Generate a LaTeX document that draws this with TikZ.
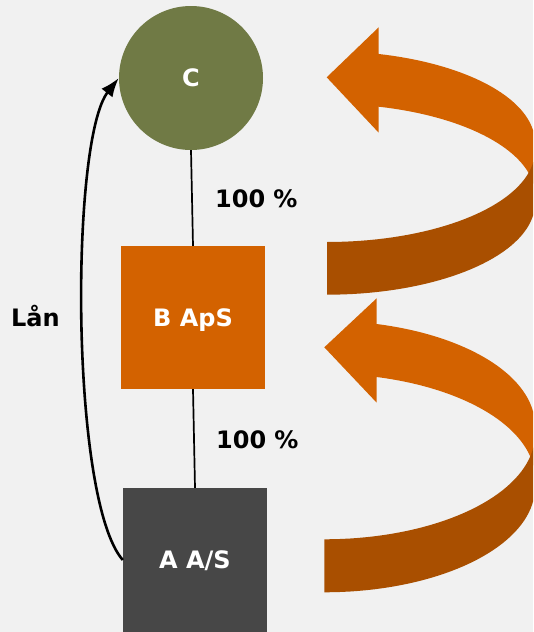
\documentclass[tikz,border=0pt]{standalone}
\usepackage{fontspec}
\setmainfont{DejaVu Sans}
\usetikzlibrary{arrows.meta}
\definecolor{bgc}{HTML}{F1F1F1}
\definecolor{cOlive}{HTML}{707A45}
\definecolor{cOrange}{HTML}{D36200}
\definecolor{cDark}{HTML}{A94F00}
\definecolor{cGray}{HTML}{474747}
\begin{document}
\begin{tikzpicture}[x=1pt,y=-1pt,
  lbl/.style={font=\fontsize{24}{28}\selectfont\bfseries, inner sep=0pt},
  entity/.style={lbl, text=white, text height=17.5pt, text depth=0pt},
  link/.style={line width=1.7pt, black},
  loan/.style={line width=2.6pt, black, -{Latex[length=19pt,width=14pt]}},
]
\useasboundingbox (0,0) rectangle (533,632);
\fill[bgc] (0,0) rectangle (533,632);
\begin{scope}
\clip (0,0) rectangle (533,632);
% upper curved arrow
\fill[cOrange] (378.7,54) -- plot[domain=75.6:0,samples=40] ({327+208*cos(\x)},{142.8-91.7*sin(\x)})
  -- (535,195.5) -- plot[domain=0:75.6,samples=40] ({327+208*cos(\x)},{195.5-91.7*sin(\x)})
  -- (378.7,132.7) -- (326.7,77.3) -- (378.7,27.3) -- cycle;
\fill[cDark] (327,294.7) -- plot[domain=90:0,samples=40] ({327+208*cos(\x)},{203+91.7*sin(\x)})
  -- (535,150.3) -- plot[domain=0:90,samples=40] ({327+208*cos(\x)},{150.3+91.7*sin(\x)}) -- cycle;
% lower curved arrow
\fill[cOrange] (376.7,324) -- plot[domain=75.6:0,samples=40] ({324.3+210.7*cos(\x)},{425.7-105*sin(\x)})
  -- (535,478.7) -- plot[domain=0:75.6,samples=40] ({324.3+210.7*cos(\x)},{478.7-105*sin(\x)})
  -- (376.7,402.7) -- (324.3,347.3) -- (376.7,298.3) -- cycle;
\fill[cDark] (324.3,592.3) -- plot[domain=90:0,samples=40] ({324.3+210.7*cos(\x)},{487.3+105*sin(\x)})
  -- (535,434.3) -- plot[domain=0:90,samples=40] ({324.3+210.7*cos(\x)},{434.3+105*sin(\x)}) -- cycle;
\end{scope}
% entities
\node[entity, circle, fill=cOlive, minimum size=144pt] (C) at (191,78) {C};
\node[entity, rectangle, fill=cOrange, minimum width=144pt, minimum height=143pt] (B) at (193,317.5) {B ApS};
\node[entity, rectangle, fill=cGray, minimum width=144pt, minimum height=144pt] (A) at (195,560) {A A/S};
% ownership links
\draw[link] (C.south) -- (B.north);
\draw[link] (B.south) -- (A.north);
% loan
\draw[loan] (A.west) .. controls (70,500) and (70,140) .. (C.west);
% labels
\node[lbl, anchor=base west] (p1) at (215,207.3) {100\,\,\%};
\node[lbl, anchor=base west] (p2) at (216,448.5) {100\,\,\%};
\node[lbl, anchor=base west] (lan) at (11,326.7) {Lån};
\end{tikzpicture}
\end{document}
